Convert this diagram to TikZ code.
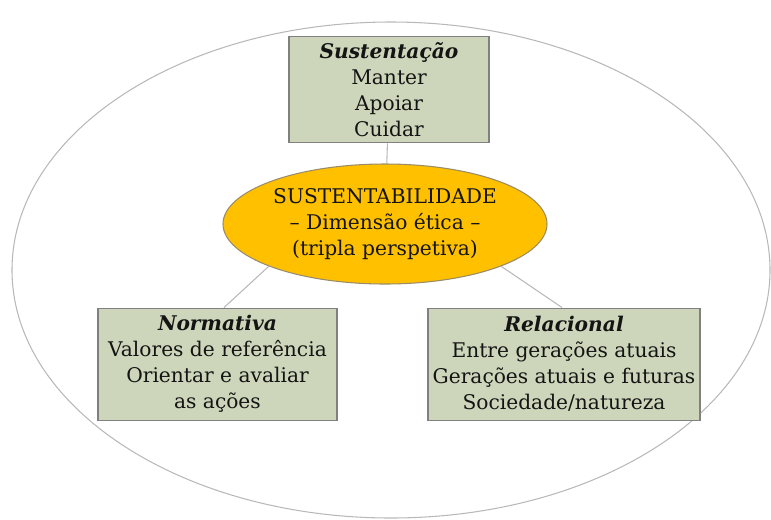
\documentclass[tikz,border=0pt]{standalone}
\usepackage{fontspec}
\setmainfont{DejaVu Serif}
\usepackage{xcolor}
\definecolor{colorBox}{RGB}{205,214,186}
\definecolor{colorCore}{RGB}{255,192,0}
\colorlet{colorLine}{black!28}
\colorlet{colorFrame}{black!50}
\colorlet{colorText}{black!92}
\usepackage{tikz}
\usetikzlibrary{positioning, shapes.geometric}

\begin{document}
\begin{tikzpicture}[line width=0.6pt, node distance=0.4cm,
  every node/.style={font=\fontsize{11.5}{14.8}\selectfont, text=colorText, align=center},
  box/.style={draw=colorFrame, fill=colorBox, inner sep=1pt}]
\useasboundingbox (0,0) rectangle (15.42,-10.38);
\draw[colorLine] (7.82,-5.40) ellipse (7.58cm and 4.96cm);
\node[ellipse, draw=colorFrame!80!colorCore, fill=colorCore, inner sep=1pt, minimum width=6.48cm, minimum height=2.4cm] (core) at (7.70,-4.48) {SUSTENTABILIDADE\\– Dimensão ética –\\(tripla perspetiva)};
\node[box, above=0.4cm of core, xshift=0.08cm, minimum width=4.0cm, minimum height=2.12cm] (sust) {\textbf{\textit{Sustentação}}\\Manter\\Apoiar\\Cuidar};
\node[box, below=0.46cm of core, xshift=-3.35cm, minimum width=4.78cm, minimum height=2.24cm] (norm) {\textbf{\textit{Normativa}}\\Valores de referência\\Orientar e avaliar\\as ações};
\node[box, below=0.46cm of core, xshift=3.58cm, minimum width=5.44cm, minimum height=2.24cm] (rel) {\textbf{\textit{Relacional}}\\Entre gerações atuais\\Gerações atuais e futuras\\Sociedade/natureza};
\draw[colorLine] (sust) -- (core);
\draw[colorLine] (core.200) -- ([xshift=0.13cm]norm.north);
\draw[colorLine] (core.340) -- ([xshift=-0.04cm]rel.north);
\end{tikzpicture}
\end{document}
